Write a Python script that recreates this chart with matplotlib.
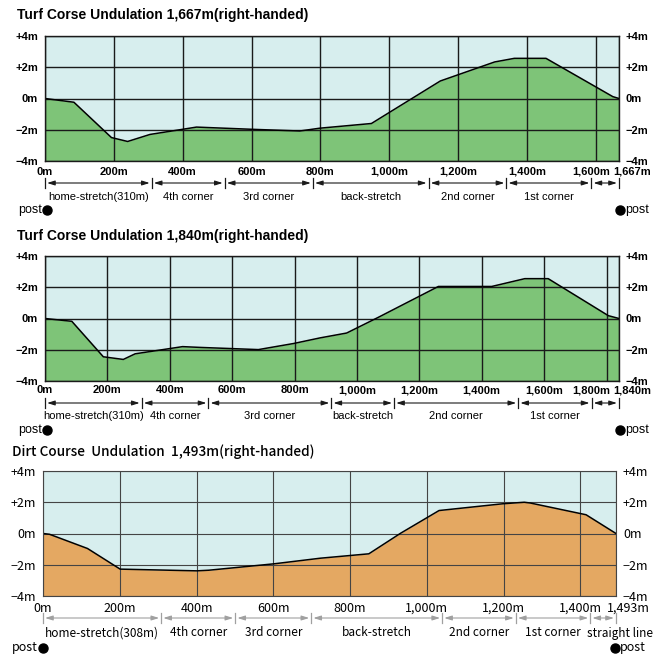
import matplotlib
matplotlib.use('Agg')
import matplotlib.pyplot as plt
import matplotlib.transforms as mtransforms

W, H = 665, 657

# turf 1,667m profile (distance m, elevation m)
turf1_dist = [0, 84, 193, 240, 305, 400, 440, 600, 740, 798, 948, 1148, 1306, 1363, 1455, 1649, 1667]
turf1_elev = [0, -0.24, -2.5, -2.75, -2.3, -1.97, -1.83, -1.97, -2.08, -1.9, -1.6, 1.12, 2.34, 2.57, 2.57, 0.12, 0]
turf1_bounds = [0, 310, 522, 778, 1114, 1340, 1587, 1667]
turf1_sections = ['home-stretch(310m)', '4th corner', '3rd corner', 'back-stretch', '2nd corner', '1st corner', '']

# turf 1,840m profile
turf2_dist = [0, 86, 187, 251, 289, 441, 497, 684, 797, 882, 967, 1068, 1261, 1432, 1538, 1613, 1806, 1840]
turf2_elev = [0, -0.18, -2.45, -2.62, -2.26, -1.8, -1.85, -1.99, -1.6, -1.24, -0.93, 0.07, 2.05, 2.05, 2.55, 2.55, 0.18, 0]
turf2_bounds = [0, 310, 524, 918, 1119, 1517, 1752, 1840]
turf2_sections = ['home-stretch(310m)', '4th corner', '3rd corner', 'back-stretch', '2nd corner', '1st corner', '']

# dirt 1,493m profile
dirt_dist = [0, 17, 116, 201, 401, 432, 602, 723, 849, 932, 1032, 1197, 1254, 1270, 1415, 1493]
dirt_elev = [0, -0.05, -0.96, -2.28, -2.39, -2.35, -1.94, -1.58, -1.3, 0.02, 1.47, 1.9, 2.0, 1.95, 1.2, 0]
dirt_bounds = [0, 308, 501, 699, 1040, 1232, 1426, 1493]
dirt_sections = ['home-stretch(308m)', '4th corner', '3rd corner', 'back-stretch', '2nd corner', '1st corner', 'straight line']

y_ticks = [-4, -2, 0, 2, 4]
y_labels = ['\u22124m', '\u22122m', '0m', '+2m', '+4m']

BG = '#d7eeee'
GREEN = '#7ec478'
ORANGE = '#e4a862'

fig = plt.figure(figsize=(W / 100, H / 100), dpi=100)


def panel(box, title, title_pos, dist, elev, length, bounds, sections, fill, st):
    font = st['font']
    x0, y0, x1, y1 = box
    hpx = y1 - y0
    ax = fig.add_axes([x0 / W, 1 - y1 / H, (x1 - x0) / W, hpx / H])
    ax.set_facecolor(BG)
    ax.fill_between(dist, elev, -4, color=fill, lw=0, zorder=1)
    ax.plot(dist, elev, color='black', lw=1.1, zorder=3)
    ax.set_xlim(0, length)
    ax.set_ylim(-4, 4)
    blend = mtransforms.blended_transform_factory(ax.transData, ax.transAxes)

    xt = list(range(0, length, 200)) + [length]
    names = [f'{v:,}m' for v in xt]
    ax.set_xticks(xt)
    # the last two labels sit squeezed at the right end, drawn by hand below
    ax.set_xticklabels(names[:-2] + ['', ''], family=font, fontsize=st['tick_fs'],
                       weight=st['tick_w'])
    for v, name, ha, dx in zip(xt[-2:], names[-2:], ['center', 'left'], st['tick_dx']):
        tr = mtransforms.offset_copy(blend, fig=fig, x=dx, y=-st['tick_pad'] * 100 / 72,
                                     units='dots')
        ax.text(v, 0, name, transform=tr, family=font, fontsize=st['tick_fs'],
                weight=st['tick_w'], ha=ha, va='top')
    ax.set_yticks(y_ticks)
    ax.set_yticklabels(y_labels, family=font, fontsize=st['tick_fs'], weight=st['tick_w'])
    ax.tick_params(axis='both', length=0, labelright=True)
    ax.tick_params(axis='x', pad=st['tick_pad'])
    ax.tick_params(axis='y', pad=5)
    ax.set_axisbelow(False)
    ax.grid(True, color=st['grid'], lw=st['grid_lw'])
    for s in ax.spines.values():
        s.set_color(st['grid'])
        s.set_linewidth(st['grid_lw'])
        s.set_zorder(4)

    fig.text(title_pos[0] / W, 1 - title_pos[1] / H, title, family=font,
             fontsize=st['title_fs'], weight=st['title_w'], va='center', ha='left')

    ya = -22 / hpx
    for i, (a, b, name) in enumerate(zip(bounds[:-1], bounds[1:], sections)):
        ax.annotate('', xy=(b, ya), xytext=(a, ya), xycoords=blend,
                    arrowprops=dict(arrowstyle='<|-|>,head_length=0.45,head_width=0.14',
                                    color=st['arrow'], lw=0.8, shrinkA=1.5, shrinkB=1.5),
                    annotation_clip=False)
        if name:
            dx = st['last_label_dx'] if i == len(sections) - 1 else 0
            tr = mtransforms.offset_copy(blend, fig=fig, x=dx, y=0, units='dots')
            ax.text((a + b) / 2, -st['label_dy'] / hpx, name, transform=tr, family=font,
                    fontsize=st['label_fs'], ha='center', va='center')
    for b in bounds:
        ax.plot([b, b], [ya - 5 / hpx, ya + 5 / hpx], color=st['arrow'], lw=0.9,
                transform=blend, clip_on=False)

    yp = -st['post_dy'] / hpx
    lo, ro = st['post_off']
    left_dot = mtransforms.offset_copy(blend, fig=fig, x=lo, y=0, units='dots')
    ax.plot([0], [yp], 'o', ms=6.5, color='black', transform=left_dot, clip_on=False)
    left_txt = mtransforms.offset_copy(blend, fig=fig, x=lo - 5, y=0, units='dots')
    ax.text(0, yp, 'post', transform=left_txt, family=font, fontsize=9, ha='right', va='center')
    right_dot = mtransforms.offset_copy(blend, fig=fig, x=ro, y=0, units='dots')
    ax.plot([length], [yp], 'o', ms=6.5, color='black', transform=right_dot, clip_on=False)
    right_txt = mtransforms.offset_copy(blend, fig=fig, x=ro + 5, y=0, units='dots')
    ax.text(length, yp, 'post', transform=right_txt, family=font, fontsize=9, ha='left', va='center')
    return ax


turf_style = dict(font='Liberation Sans', tick_fs=8, tick_w='bold', tick_pad=4,
                  grid='#1a1a1a', grid_lw=1, arrow='#1a1a1a', label_fs=8, label_dy=36,
                  post_dy=49, post_off=(2, 1), title_fs=10, title_w='bold', last_label_dx=0)

panel((45, 36, 619, 161), 'Turf Corse Undulation 1,667m(right-handed)', (17, 15),
      turf1_dist, turf1_elev, 1667, turf1_bounds, turf1_sections, GREEN,
      dict(turf_style, tick_dx=(-5, -6)))

panel((45, 256, 619, 381), 'Turf Corse Undulation 1,840m(right-handed)', (17, 236),
      turf2_dist, turf2_elev, 1840, turf2_bounds, turf2_sections, GREEN,
      dict(turf_style, tick_dx=(-15, -6), tick_pad=3, label_dy=35))

dirt_style = dict(font='Noto Sans CJK JP', tick_fs=9, tick_w='normal', tick_pad=4,
                  grid='#444444', grid_lw=0.8, arrow='#a0a0a0', label_fs=8.5, label_dy=37,
                  post_dy=52, post_off=(0, -1), title_fs=9.8, title_w='medium',
                  tick_dx=(0, -9), last_label_dx=17)

panel((43, 471, 616, 596), 'Dirt Course  Undulation  1,493m(right-handed)', (12, 452),
      dirt_dist, dirt_elev, 1493, dirt_bounds, dirt_sections, ORANGE, dirt_style)

fig.savefig('out.png', dpi=100)
